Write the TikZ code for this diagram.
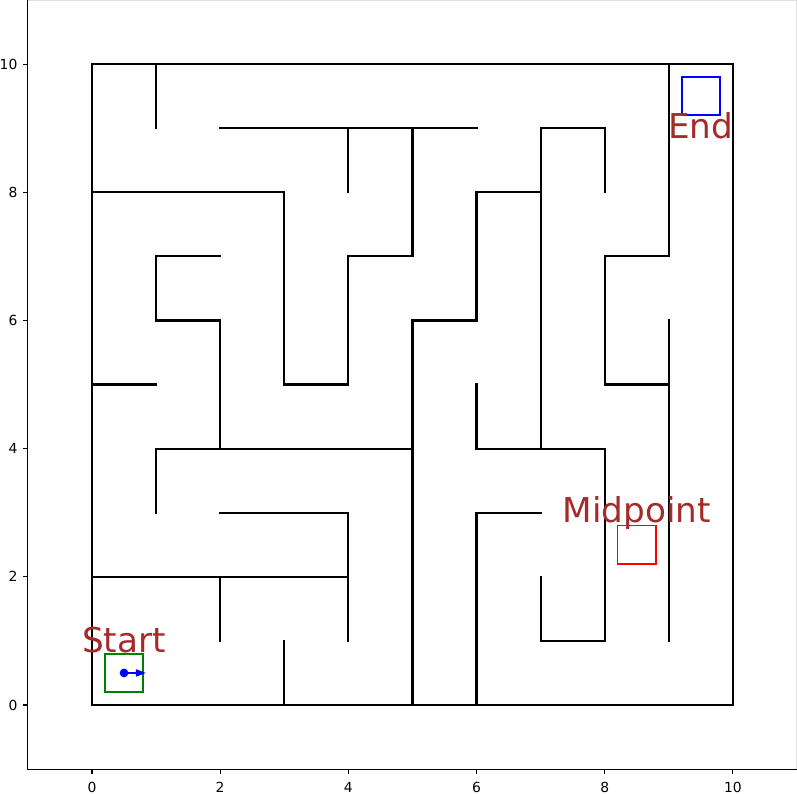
\documentclass[tikz,border=0pt]{standalone}
\usepackage{fontspec}
\setmainfont{DejaVu Sans}
\usetikzlibrary{arrows.meta}
\definecolor{labelbrown}{RGB}{165,42,42}
\definecolor{startgreen}{RGB}{0,128,0}
\tikzset{
  wall/.style={line width=1.0pt, line cap=rect, line join=miter},
  goalbox/.style={line width=0.8pt},
  spine/.style={line width=0.49pt},
  ticklabel/.style={inner sep=0pt, font=\fontsize{6.17}{7.4}\selectfont},
  marklabel/.style={anchor=base, inner sep=0pt, text=labelbrown, font=\fontsize{15.2}{18}\selectfont}
}
\begin{document}
\begin{tikzpicture}
  \useasboundingbox (-1.435,-1.373) rectangle (11,11);
  % axes frame and ticks
  \draw[spine] (-1,11) -- (-1,-1) -- (11,-1);
  \draw[spine, black!12] (-1,11) -- (11,11) -- (11,-1);
  \foreach \t in {0,2,...,10} {
    \draw[spine] (\t,-1) -- (\t,-1.076);
    \node[ticklabel, anchor=north] (xt\t) at (\t,-1.203) {\t};
    \draw[spine] (-1,\t) -- (-1.076,\t);
    \node[ticklabel, anchor=east] (yt\t) at (-1.156,\t) {\t};
  }
  % outer boundary
  \draw[wall] (0,0) -- (10,0) -- (10,10) -- (0,10) -- cycle;
  % inner walls, top part
  \draw[wall] (1,10) -- (1,9);
  \draw[wall] (2,9) -- (6,9);
  \draw[wall] (4,9) -- (4,8);
  \draw[wall] (5,9) -- (5,7) -- (4,7) -- (4,5) -- (3,5) -- (3,8) -- (0,8);
  \draw[wall] (8,8) -- (8,9) -- (7,9) -- (7,4);
  \draw[wall] (7,8) -- (6,8) -- (6,6) -- (5,6) -- (5,0);
  \draw[wall] (9,10) -- (9,7) -- (8,7) -- (8,5) -- (9,5);
  \draw[wall] (9,6) -- (9,1);
  \draw[wall] (2,7) -- (1,7) -- (1,6) -- (2,6) -- (2,4);
  \draw[wall] (0,5) -- (1,5);
  % inner walls, bottom part
  \draw[wall] (1,3) -- (1,4) -- (5,4);
  \draw[wall] (6,5) -- (6,4) -- (8,4) -- (8,1) -- (7,1) -- (7,2);
  \draw[wall] (2,3) -- (4,3) -- (4,1);
  \draw[wall] (0,2) -- (4,2);
  \draw[wall] (2,2) -- (2,1);
  \draw[wall] (3,1) -- (3,0);
  \draw[wall] (7,3) -- (6,3) -- (6,0);
  % start, midpoint and end boxes
  \draw[goalbox, startgreen] (0.2,0.2) rectangle (0.8,0.8);
  \draw[goalbox, red] (8.2,2.2) rectangle (8.8,2.8);
  \draw[goalbox, blue] (9.2,9.2) rectangle (9.8,9.8);
  % agent and heading
  \coordinate (agent) at (0.5,0.5);
  \coordinate (heading) at (0.842,0.5);
  \draw[blue, line width=0.7pt, -{Triangle[length=0.156cm,width=0.11cm]}] (agent) -- (heading);
  \fill[blue] (agent) circle (0.068);
  % labels
  \node[marklabel] (startlabel) at (0.5,0.817) {Start};
  \node[marklabel] (midlabel) at (8.5,2.846) {Midpoint};
  \node[marklabel] (endlabel) at (9.5,8.84) {End};
\end{tikzpicture}
\end{document}
